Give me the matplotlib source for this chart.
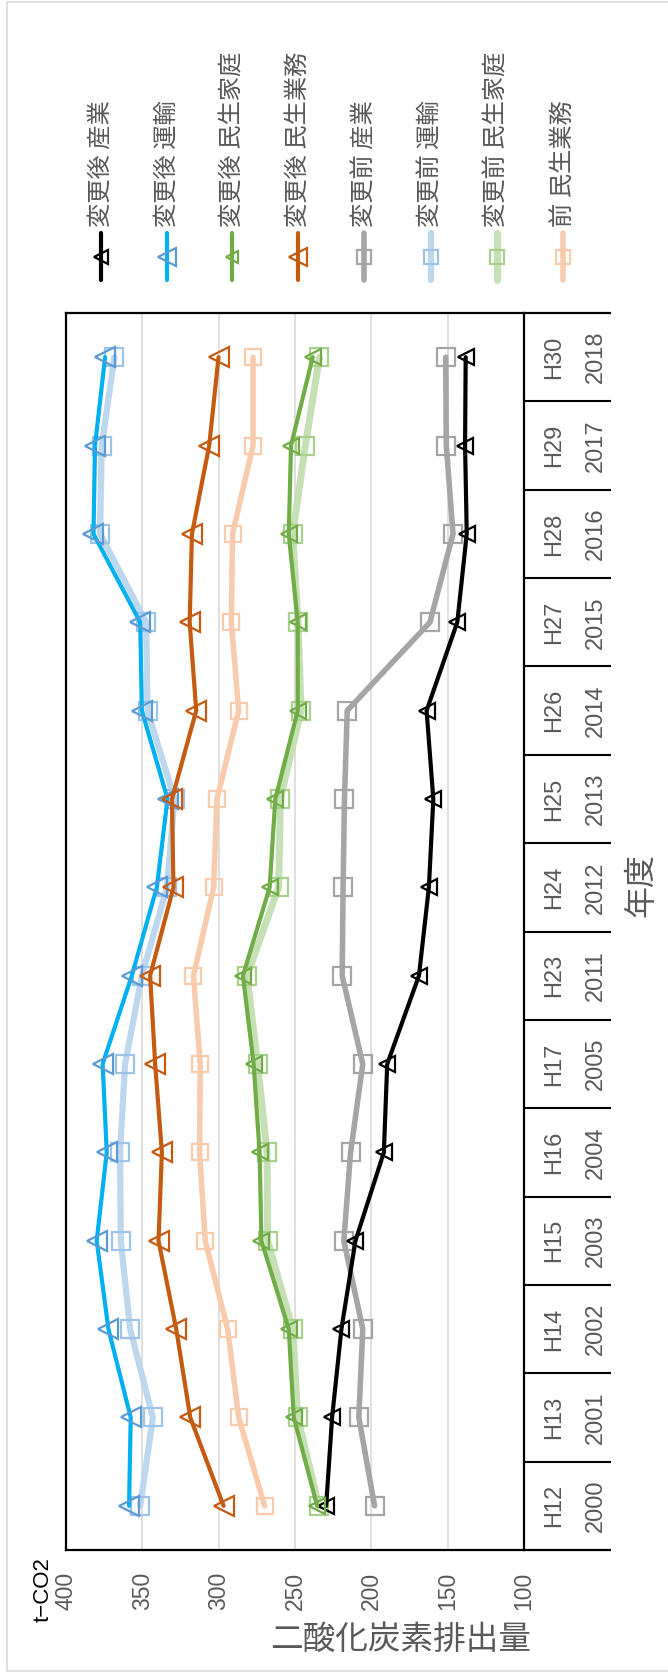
import matplotlib
matplotlib.use('Agg')
import matplotlib.pyplot as plt
from matplotlib.lines import Line2D
from matplotlib.patches import Rectangle

W, H = 668, 1675
LATIN = ['Liberation Sans', 'DejaVu Sans']
CJK = ['Noto Sans CJK JP', 'DejaVu Sans']
GREY_TXT = '#595959'

# categories (bottom to top after rotation)
wareki = ['H12', 'H13', 'H14', 'H15', 'H16', 'H17', 'H23', 'H24', 'H25', 'H26', 'H27', 'H28', 'H29', 'H30']
years = ['2000', '2001', '2002', '2003', '2004', '2005', '2011', '2012', '2013', '2014', '2015', '2016', '2017', '2018']

# t-CO2
after_industry = [229.6, 225.7, 219.6, 210.4, 191.8, 189.6, 168.8, 162.3, 159.4, 163.8, 143.7, 137.5, 138.6, 138.2]
after_transport = [358.7, 357.6, 372.2, 379.9, 373.3, 376.0, 356.9, 340.5, 333.5, 350.3, 351.4, 382.0, 381.0, 374.4]
after_household = [235.5, 250.8, 254.1, 272.0, 273.2, 277.1, 284.1, 266.6, 262.9, 248.2, 248.2, 254.1, 252.6, 238.4]
after_business = [296.8, 318.6, 327.8, 339.4, 337.2, 341.6, 344.9, 329.6, 330.6, 314.7, 319.0, 317.5, 306.2, 300.1]
before_industry = [197.9, 208.2, 205.6, 218.0, 213.6, 205.6, 219.1, 218.5, 217.6, 215.8, 161.6, 146.5, 150.9, 151.3]
before_transport = [351.4, 343.1, 358.0, 364.1, 364.6, 361.3, 350.3, 333.9, 328.9, 346.6, 347.5, 377.7, 376.6, 368.3]
before_household = [234.4, 248.2, 251.5, 267.9, 268.3, 274.5, 281.4, 260.7, 259.6, 246.0, 248.0, 251.5, 243.2, 234.0]
before_business = [269.9, 286.9, 294.1, 308.8, 312.5, 312.1, 316.5, 303.3, 301.1, 286.9, 291.7, 290.9, 277.5, 277.5]

legend_labels = ['変更後 産業', '変更後 運輸', '変更後 民生家庭', '変更後 民生業務',
                 '変更前 産業', '変更前 運輸', '変更前 民生家庭', '前 民生業務']
values = [after_industry, after_transport, after_household, after_business,
          before_industry, before_transport, before_household, before_business]

# line colour, line width, marker, marker size, marker edge colour, z
styles = [
    ('#000000', 3.0, '<', 12, '#000000', 6),
    ('#00B0F0', 3.0, '<', 15, '#5B9BD5', 6),
    ('#70AD47', 3.0, '<', 11, '#70AD47', 6),
    ('#C55A11', 3.0, '<', 15, '#C55A11', 6),
    ('#A5A5A5', 4.0, 's', 12.5, '#A5A5A5', 4),
    ('#BDD7EE', 4.5, 's', 12.5, '#9DC3E6', 4),
    ('#C5E0B4', 5.0, 's', 12.5, '#A9D18E', 4),
    ('#F8CBAD', 4.0, 's', 12, '#F8CBAD', 4),
]


def fx(px):
    return px / W


def fy(py):
    return 1 - py / H


fig = plt.figure(figsize=(W / 100, H / 100), dpi=100)

# outer chart border
fig.add_artist(Rectangle((fx(7), fy(1671)), 1.0, fy(2) - fy(1671), transform=fig.transFigure,
                         fill=False, edgecolor='#D9D9D9', lw=1.2))

x0, x1, ytop, ybot = 66, 524, 313, 1550
ax = fig.add_axes([fx(x0), fy(ybot), fx(x1) - fx(x0), fy(ytop) - fy(ybot)])
pos = list(range(len(wareki)))

for vals, (c, lw, mk, ms, mec, z) in zip(values, styles):
    ax.plot(vals, pos, color=c, lw=lw, marker=mk, ms=ms, mfc='none', mec=mec,
            mew=1.6, zorder=z, solid_capstyle='round', solid_joinstyle='round')

ax.set_xlim(400, 100)
ax.set_ylim(-0.5, len(wareki) - 0.5)
ax.set_xticks([400, 350, 300, 250, 200, 150, 100])
ax.set_yticks([])
ax.grid(axis='x', color='#D9D9D9', lw=1.2, zorder=0)
ax.tick_params(axis='x', length=0, pad=16)
for lab in ax.get_xticklabels():
    lab.set_rotation(90)
    lab.set_family(LATIN)
    lab.set_fontsize(16.5)
    lab.set_color(GREY_TXT)
for s in ax.spines.values():
    s.set_color('#000000')
    s.set_linewidth(1.6)

# category axis (two level labels)
ax2 = fig.add_axes([fx(x1), fy(ybot), fx(611) - fx(x1), fy(ytop) - fy(ybot)])
ax2.set_xlim(0, 1)
ax2.set_ylim(-0.5, len(wareki) - 0.5)
ax2.axis('off')
for k in range(len(wareki) + 1):
    ax2.plot([0, 1], [k - 0.5, k - 0.5], color='#000000', lw=1.5 if 0 < k < len(wareki) else 1.6,
             clip_on=False, solid_capstyle='butt')
for i, (w, yr) in enumerate(zip(wareki, years)):
    ax2.text(0.345, i, w, rotation=90, ha='center', va='center', fontsize=17,
             family=LATIN, color=GREY_TXT)
    ax2.text(0.83, i, yr, rotation=90, ha='center', va='center', fontsize=17,
             family=LATIN, color=GREY_TXT)

# titles
fig.text(fx(43), fy(1622), 't−CO2', rotation=90, ha='center', va='bottom',
         fontsize=16, family=LATIN, color='#000000')
fig.text(fx(401), fy(1640), '二酸化炭素排出量', ha='center', va='center',
         fontsize=23.5, family=CJK, color=GREY_TXT)
fig.text(fx(641), fy(885), '年度', rotation=90, ha='center', va='center',
         fontsize=23, family=CJK, color=GREY_TXT)

# legend, drawn by hand because it is rotated
leg_x = [100.7, 166.7, 232.3, 298.3, 364.3, 430.7, 496.7, 562.7]
for lx, lab, (c, lw, mk, ms, mec, z) in zip(leg_x, legend_labels, styles):
    fig.add_artist(Line2D([fx(lx), fx(lx)], [fy(233), fy(280)], transform=fig.transFigure,
                          color=c, lw=lw, solid_capstyle='round'))
    fig.add_artist(Line2D([fx(lx)], [fy(257)], transform=fig.transFigure, marker=mk,
                          ms=ms * 0.85, mfc='none', mec=mec, mew=1.6, lw=0))
    fig.text(fx(lx), fy(227), lab, rotation=90, ha='center', va='bottom',
             fontsize=17.5, family=CJK, color=GREY_TXT)

fig.savefig('out.png', dpi=100)
